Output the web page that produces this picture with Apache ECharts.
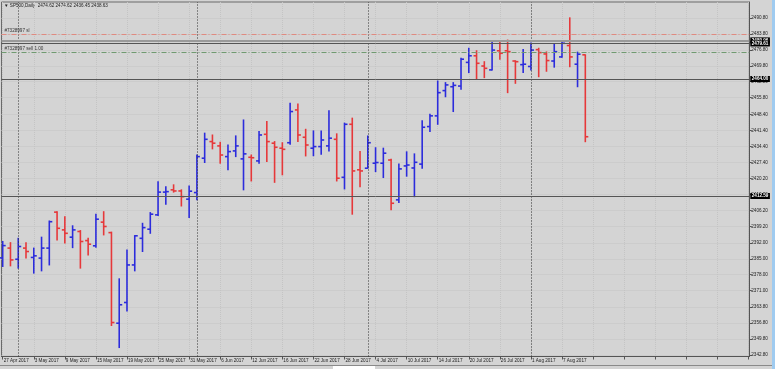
<!DOCTYPE html>
<html>
<head>
<meta charset="utf-8">
<script src="https://cdn.jsdelivr.net/npm/echarts@6/dist/echarts.min.js"></script>
<style>
html,body{margin:0;padding:0;background:#d4d4d4;}
#chart{width:775px;height:369px;}
</style>
</head>
<body>
<div id="chart"></div>
<script>
const symbolName = 'SP500,Daily';
const dates = ['27 Apr 2017','28 Apr 2017','1 May 2017','2 May 2017','3 May 2017','4 May 2017','5 May 2017','8 May 2017','9 May 2017','10 May 2017','11 May 2017','12 May 2017','15 May 2017','16 May 2017','17 May 2017','18 May 2017','19 May 2017','22 May 2017','23 May 2017','24 May 2017','25 May 2017','26 May 2017','29 May 2017','30 May 2017','31 May 2017','1 Jun 2017','2 Jun 2017','5 Jun 2017','6 Jun 2017','7 Jun 2017','8 Jun 2017','9 Jun 2017','12 Jun 2017','13 Jun 2017','14 Jun 2017','15 Jun 2017','16 Jun 2017','19 Jun 2017','20 Jun 2017','21 Jun 2017','22 Jun 2017','23 Jun 2017','26 Jun 2017','27 Jun 2017','28 Jun 2017','29 Jun 2017','30 Jun 2017','3 Jul 2017','4 Jul 2017','5 Jul 2017','6 Jul 2017','7 Jul 2017','10 Jul 2017','11 Jul 2017','12 Jul 2017','13 Jul 2017','14 Jul 2017','17 Jul 2017','18 Jul 2017','19 Jul 2017','20 Jul 2017','21 Jul 2017','24 Jul 2017','25 Jul 2017','26 Jul 2017','27 Jul 2017','28 Jul 2017','31 Jul 2017','1 Aug 2017','2 Aug 2017','3 Aug 2017','4 Aug 2017','7 Aug 2017','8 Aug 2017','9 Aug 2017','10 Aug 2017'];
const opens  = [2385.4,2389.7,2384.8,2389.7,2385.6,2385.3,2389.7,2405.5,2397.7,2394.5,2397.0,2393.0,2390.7,2401.1,2396.5,2356.7,2365.8,2382.3,2394.0,2398.0,2404.3,2414.3,2415.3,2414.8,2411.2,2414.1,2429.2,2436.5,2434.6,2429.9,2432.4,2428.9,2429.6,2428.0,2439.7,2435.8,2433.6,2436.0,2450.4,2438.4,2433.6,2434.3,2434.6,2437.5,2420.8,2444.1,2424.1,2424.8,2427.0,2427.0,2428.4,2410.9,2425.8,2424.9,2426.6,2443.1,2447.8,2458.9,2460.6,2460.9,2471.3,2474.2,2469.7,2468.0,2476.4,2476.4,2471.9,2470.3,2469.5,2476.9,2475.0,2471.9,2473.7,2478.7,2470.5,2474.62];
const highs  = [2392.6,2392.1,2394.0,2392.1,2389.7,2394.5,2401.6,2405.7,2403.5,2399.5,2397.4,2394.0,2404.6,2405.7,2396.7,2376.2,2388.9,2395.2,2400.6,2405.3,2418.9,2416.7,2417.5,2415.3,2417.0,2430.6,2440.2,2439.4,2436.2,2435.0,2439.0,2446.0,2430.6,2440.9,2445.3,2436.5,2436.0,2453.3,2453.0,2441.9,2441.2,2441.2,2450.0,2439.9,2444.6,2446.8,2432.1,2439.0,2433.8,2433.6,2428.7,2426.7,2432.0,2431.1,2445.6,2448.5,2463.1,2462.4,2462.4,2473.1,2477.5,2476.4,2471.6,2480.0,2480.7,2481.1,2472.0,2477.0,2479.8,2477.5,2475.9,2479.5,2480.4,2490.87,2475.8,2474.62];
const lows   = [2381.6,2381.9,2380.9,2385.3,2378.7,2379.7,2382.3,2393.3,2391.9,2389.9,2380.9,2386.7,2390.1,2395.5,2355.7,2346.0,2362.1,2379.7,2388.2,2396.2,2404.0,2409.0,2414.3,2408.2,2403.1,2410.9,2427.3,2433.3,2427.0,2424.1,2429.9,2415.3,2419.2,2427.0,2427.7,2418.6,2421.9,2435.3,2436.5,2430.2,2430.3,2430.9,2432.4,2419.2,2415.7,2404.6,2416.7,2424.8,2423.3,2420.7,2406.5,2409.7,2421.3,2412.3,2424.8,2440.9,2444.1,2456.2,2449.7,2459.5,2466.8,2463.9,2464.6,2468.0,2472.7,2458.0,2462.1,2466.8,2468.0,2465.0,2467.4,2469.2,2473.5,2469.4,2460.6,2436.45];
const closes = [2390.8,2384.5,2390.4,2388.2,2386.3,2389.7,2401.3,2398.4,2396.2,2397.7,2392.6,2391.4,2402.4,2399.2,2357.0,2364.8,2382.3,2395.1,2398.7,2404.6,2414.3,2414.5,2414.8,2412.3,2414.7,2429.9,2437.5,2435.8,2430.6,2432.1,2434.6,2431.1,2429.4,2439.4,2436.5,2434.0,2433.1,2449.7,2439.4,2435.0,2434.3,2437.2,2438.0,2420.4,2444.1,2423.6,2423.6,2436.0,2427.3,2431.4,2409.4,2424.5,2426.2,2427.4,2442.8,2447.8,2458.0,2461.4,2461.2,2472.7,2474.2,2470.9,2468.7,2476.7,2475.3,2476.0,2471.6,2470.5,2476.7,2475.6,2472.1,2476.0,2479.7,2473.7,2474.9,2438.63];
const priceTicks = [2490.80,2483.80,2476.80,2469.80,2462.80,2455.80,2448.40,2441.40,2434.40,2427.40,2420.20,2413.20,2406.20,2399.20,2392.00,2385.00,2378.00,2371.00,2363.80,2356.80,2349.80,2342.80];
const timeTickStep = 4;
const monthStarts = [2, 25, 47, 68];
const hLevels = [2480.96, 2479.61, 2464.00, 2412.59];
const slLevel = 2483.5, slLabel = '#7328997 sl';
const sellLevel = 2475.73, sellLabel = '#7328997 sell 1.00';
const lastClose = closes[closes.length - 1];

const UP = '#2c2cdc', DOWN = '#e6383a';
const FONT = 'Liberation Sans';
const FS = 4.6;

const xMin = -0.154, xMax = 96.11;
const yMin = 2342.07, yMax = 2497.83;

const timeTicks = [];
for (let i = 0; i <= xMax; i += timeTickStep) timeTicks.push(i);

const ohlc = dates.map((d, i) => [i, opens[i], closes[i], lows[i], highs[i]]);

const boxLabel = {
  show: true, position: 'end', distance: 1,
  formatter: p => Number(p.value).toFixed(2),
  backgroundColor: '#000', color: '#fff', fontSize: FS, fontFamily: FONT,
  padding: [0.5, 1.5], fontWeight: 'bold'
};

const chart = echarts.init(document.getElementById('chart'), null, {renderer: 'canvas'});
chart.setOption({
  animation: false,
  backgroundColor: '#d4d4d4',
  grid: {left: 1.5, right: 25.7, top: 2, bottom: 12.5, show: true, borderColor: '#6a6a6a', borderWidth: 1, backgroundColor: '#d4d4d4'},
  xAxis: {
    type: 'value', min: xMin, max: xMax,
    axisLine: {show: true, onZero: false, lineStyle: {color: '#555', width: 1}},
    axisTick: {show: true, customValues: timeTicks, length: 3, lineStyle: {color: '#555'}},
    axisLabel: {customValues: timeTicks, formatter: v => dates[v] || '', align: 'left', fontSize: FS, fontFamily: FONT, color: '#222', margin: 2, padding: [0,0,0,1]},
    splitLine: {show: true, lineStyle: {color: '#c4c4c4', width: 1, type: [1, 1]}}
  },
  yAxis: {
    type: 'value', position: 'right', min: yMin, max: yMax, scale: true,
    axisLine: {show: true, onZero: false, lineStyle: {color: '#555', width: 1}},
    axisTick: {show: true, customValues: priceTicks, length: 2.5, lineStyle: {color: '#555'}},
    axisLabel: {customValues: priceTicks, formatter: v => Number(v).toFixed(2), fontSize: FS, fontFamily: FONT, color: '#222', margin: 2, align: 'left'},
    splitLine: {show: true, lineStyle: {color: '#c4c4c4', width: 1, type: [1, 1]}}
  },
  graphic: [
    {type: 'text', left: 4, top: 3.5, style: {text: '\u25BC ' + symbolName + '  ' + [opens, highs, lows, closes].map(a => a[a.length-1].toFixed(2)).join(' '), fontSize: FS, fontFamily: FONT, fill: '#222'}},
    {type: 'rect', shape: {x: 772, y: 0, width: 3, height: 369}, style: {fill: '#9fcbf0'}},
    {type: 'line', shape: {x1: 0, y1: 365.5, x2: 772, y2: 365.5}, style: {stroke: '#8a8a8a', lineWidth: 1}},
    {type: 'rect', shape: {x: 333, y: 366, width: 42, height: 3}, style: {fill: '#ffffff'}}
  ],
  series: [{
    type: 'custom',
    clip: false,
    data: ohlc,
    encode: {x: 0, y: [1, 2, 3, 4]},
    renderItem: function (params, api) {
      const x = api.value(0);
      const o = api.coord([x, api.value(1)]);
      const c = api.coord([x, api.value(2)]);
      const l = api.coord([x, api.value(3)]);
      const h = api.coord([x, api.value(4)]);
      const col = api.value(2) >= api.value(1) ? UP : DOWN;
      const st = {stroke: col, lineWidth: 1.6};
      return {type: 'group', children: [
        {type: 'line', shape: {x1: h[0], y1: h[1] - 0.5, x2: l[0], y2: l[1] + 0.5}, style: st},
        {type: 'line', shape: {x1: o[0] - 3, y1: o[1], x2: o[0], y2: o[1]}, style: st},
        {type: 'line', shape: {x1: c[0], y1: c[1], x2: c[0] + 3, y2: c[1]}, style: st}
      ]};
    },
    markLine: {
      silent: true, symbol: 'none', animation: false,
      data: [
        {xAxis: monthStarts[0], lineStyle: {color: '#333', width: 1, type: [1, 2]}, label: {show: false}},
        {xAxis: monthStarts[1], lineStyle: {color: '#333', width: 1, type: [1, 2]}, label: {show: false}},
        {xAxis: monthStarts[2], lineStyle: {color: '#333', width: 1, type: [1, 2]}, label: {show: false}},
        {xAxis: monthStarts[3], lineStyle: {color: '#333', width: 1, type: [1, 2]}, label: {show: false}},
        {yAxis: slLevel, lineStyle: {color: '#e08a80', width: 1, type: [5, 2, 1, 2]},
          label: {show: true, position: 'insideStartTop', formatter: slLabel, fontSize: FS, fontFamily: FONT, color: '#333', distance: [3, 1]}},
        {yAxis: sellLevel, lineStyle: {color: '#6f9a70', width: 1, type: [5, 2, 1, 2]},
          label: {show: true, position: 'insideStartTop', formatter: sellLabel, fontSize: FS, fontFamily: FONT, color: '#333', distance: [3, 1]}},
        {yAxis: hLevels[0], lineStyle: {color: '#9a9a9a', width: 2, type: 'solid'}, label: boxLabel},
        {yAxis: hLevels[1], lineStyle: {color: '#555', width: 1, type: 'solid'}, label: boxLabel},
        {yAxis: hLevels[2], lineStyle: {color: '#555', width: 1, type: 'solid'}, label: boxLabel},
        {yAxis: hLevels[3], lineStyle: {color: '#555', width: 1, type: 'solid'}, label: boxLabel},
        {yAxis: lastClose, lineStyle: {opacity: 0}, label: boxLabel}
      ]
    }
  }]
});
</script>
</body>
</html>
